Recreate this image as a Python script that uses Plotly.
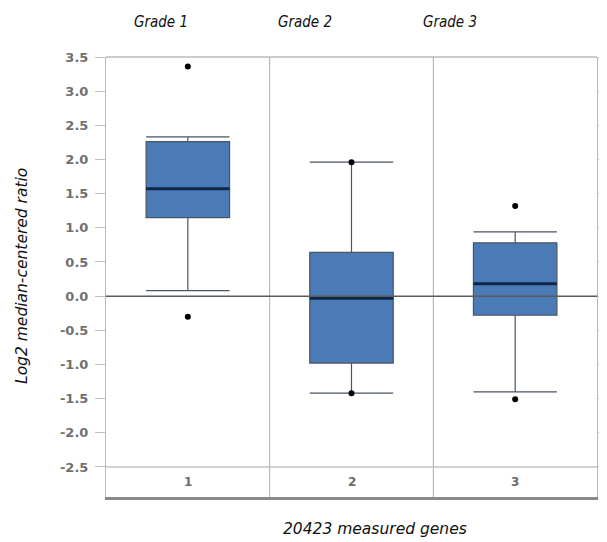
import plotly.graph_objects as go

# ---- data ----
categories = [1, 2, 3]
group_labels = ["Grade 1", "Grade 2", "Grade 3"]
cat_labels = ["1", "2", "3"]
q1 = [1.15, -0.98, -0.28]
median = [1.57, -0.03, 0.18]
q3 = [2.26, 0.64, 0.78]
lower_whisker = [0.08, -1.42, -1.40]
upper_whisker = [2.33, 1.96, 0.94]
outlier_x = [1, 1, 2, 2, 3, 3]
outlier_y = [3.36, -0.30, 1.96, -1.42, 1.32, -1.51]
y_ticks = [-2.5, -2.0, -1.5, -1.0, -0.5, 0.0, 0.5, 1.0, 1.5, 2.0, 2.5, 3.0, 3.5]

BOX_W = 0.51
tick_text = [("%.1f" % v) for v in y_ticks]

fig = go.Figure()

fig.add_trace(go.Box(
    x=categories, q1=q1, median=median, q3=q3,
    lowerfence=lower_whisker, upperfence=upper_whisker,
    width=BOX_W, whiskerwidth=1, boxpoints=False,
    fillcolor="#4a7bb7", line=dict(color="#4a5564", width=1.2),
    showlegend=False, hoverinfo="skip",
))

# median bars
mx, my = [], []
for c, m in zip(categories, median):
    mx += [c - BOX_W / 2, c + BOX_W / 2, None]
    my += [m, m, None]
fig.add_trace(go.Scatter(x=mx, y=my, mode="lines",
                         line=dict(color="#0f2747", width=3),
                         showlegend=False, hoverinfo="skip"))

fig.add_trace(go.Scatter(x=outlier_x, y=outlier_y, mode="markers",
                         marker=dict(color="black", size=6),
                         showlegend=False, hoverinfo="skip"))

shapes = []
shapes.append(dict(type="line", xref="paper", yref="y", x0=0, x1=1, y0=0, y1=0,
                   line=dict(color="#5a5a5a", width=1.5), layer="above"))
for b in [1.5, 2.5]:
    shapes.append(dict(type="line", xref="x", yref="paper", x0=b, x1=b, y0=0, y1=1,
                       line=dict(color="#aaaaaa", width=1), layer="below"))
shapes.append(dict(type="line", xref="paper", yref="y", x0=0, x1=1, y0=-2.5, y1=-2.5,
                   line=dict(color="#c4c4c4", width=1.5), layer="below"))
shapes.append(dict(type="line", xref="paper", yref="paper", x0=0, x1=1, y0=1, y1=1,
                   line=dict(color="#999999", width=1.2), layer="above"))

TXT = "DejaVu Sans"
annotations = []
for c, t in zip(categories, cat_labels):
    annotations.append(dict(x=c, y=-2.72, xref="x", yref="y", text=t, showarrow=False,
                            font=dict(family=TXT, size=12, color="#6a6a6a", weight="bold")))
for xp, t in zip([161, 305, 450], group_labels):
    annotations.append(dict(x=(xp - 106) / 491, y=(497 - 22) / 440,
                            xref="paper", yref="paper", text="<i>%s</i>" % t, showarrow=False,
                            xanchor="center", yanchor="middle",
                            font=dict(family="DejaVu Sans Condensed, Liberation Sans Narrow, DejaVu Sans",
                                      size=15, color="#111111")))
annotations.append(dict(x=(375 - 106) / 491, y=(497 - 529) / 440, xref="paper", yref="paper",
                        text="<i>20423 measured genes</i>", showarrow=False,
                        xanchor="center", yanchor="middle",
                        font=dict(family=TXT, size=15.5, color="#111111")))
annotations.append(dict(x=(22 - 106) / 491, y=(497 - 276) / 440, xref="paper", yref="paper",
                        text="<i>Log2 median-centered ratio</i>", showarrow=False, textangle=-90,
                        xanchor="center", yanchor="middle",
                        font=dict(family=TXT, size=15.5, color="#111111")))

# page body has an 8px margin: size/margins chosen so the plot area lands where the reference has it
fig.update_layout(
    width=599, height=534,
    margin=dict(l=98, r=10, t=49, b=45),
    paper_bgcolor="white", plot_bgcolor="white",
    shapes=shapes, annotations=annotations,
    xaxis=dict(range=[0.5, 3.5], showticklabels=False, ticks="", showgrid=False,
               zeroline=False, showline=True, linecolor="#8a8a8a", linewidth=2.5,
               automargin=False),
    yaxis=dict(range=[-2.94, 3.5], tickvals=y_ticks, ticktext=tick_text,
               ticks="outside", ticklen=10, tickcolor="#c0c0c0", tickwidth=1,
               ticklabelstandoff=4,
               showgrid=False, zeroline=False, showline=True, linecolor="#b8b8b8",
               linewidth=1, mirror="ticks", automargin=False,
               tickfont=dict(family=TXT, size=13, color="#707070", weight="bold")),
)

fig.write_html("out.html")
